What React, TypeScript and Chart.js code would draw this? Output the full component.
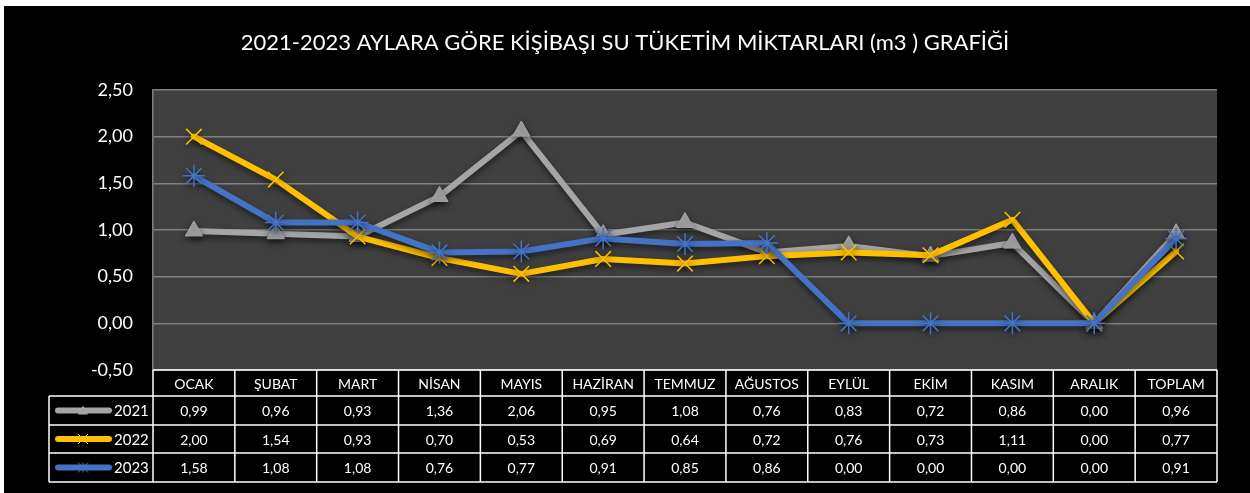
import React, { useEffect, useRef } from "react";
import { Chart, registerables } from "chart.js";

Chart.register(...registerables);

const TITLE = "2021-2023 AYLARA GÖRE KİŞİBAŞI SU TÜKETİM MİKTARLARI (m3 ) GRAFİĞİ";
const categories = ["OCAK", "ŞUBAT", "MART", "NİSAN", "MAYIS", "HAZİRAN", "TEMMUZ", "AĞUSTOS", "EYLÜL", "EKİM", "KASIM", "ARALIK", "TOPLAM"];
const seriesNames = ["2021", "2022", "2023"];
const values2021 = [0.99, 0.96, 0.93, 1.36, 2.06, 0.95, 1.08, 0.76, 0.83, 0.72, 0.86, 0.0, 0.96];
const values2022 = [2.0, 1.54, 0.93, 0.7, 0.53, 0.69, 0.64, 0.72, 0.76, 0.73, 1.11, 0.0, 0.77];
const values2023 = [1.58, 1.08, 1.08, 0.76, 0.77, 0.91, 0.85, 0.86, 0.0, 0.0, 0.0, 0.0, 0.91];
const yMin = -0.5;
const yMax = 2.5;
const yStep = 0.5;

const COLORS = ["#A5A5A5", "#FFC000", "#4472C4"];
const FONT = "Lato, 'Open Sans', sans-serif";

const fmt = (v: number) => v.toFixed(2).replace(".", ",");

const bgPlugin = {
  id: "bg",
  beforeDraw(chart: any) {
    const { ctx, width, height, chartArea } = chart;
    ctx.save();
    ctx.fillStyle = "#ffffff";
    ctx.fillRect(0, 0, width, height);
    ctx.fillStyle = "#000000";
    ctx.fillRect(4, 6, width - 4, height - 6);
    ctx.fillStyle = "#404040";
    ctx.fillRect(chartArea.left, chartArea.top, chartArea.right - chartArea.left, chartArea.bottom - chartArea.top);
    // title
    ctx.fillStyle = "#ffffff";
    ctx.font = `22px ${FONT}`;
    ctx.textAlign = "center";
    ctx.textBaseline = "middle";
    ctx.fillText(TITLE, 625, 43);
    ctx.restore();
  },
};

const shadowPlugin = {
  id: "shadow",
  beforeDatasetsDraw(chart: any) {
    const ctx = chart.ctx;
    ctx.save();
    ctx.shadowColor = "rgba(0,0,0,0.55)";
    ctx.shadowBlur = 6;
    ctx.shadowOffsetY = 3;
  },
  afterDatasetsDraw(chart: any) {
    chart.ctx.restore();
  },
};

function drawLegendMarker(ctx: CanvasRenderingContext2D, idx: number, x: number, y: number) {
  ctx.save();
  ctx.strokeStyle = COLORS[idx];
  ctx.fillStyle = COLORS[idx];
  ctx.lineWidth = 1;
  const r = 5;
  if (idx === 0) {
    ctx.beginPath();
    ctx.moveTo(x, y - r);
    ctx.lineTo(x + r, y + r * 0.8);
    ctx.lineTo(x - r, y + r * 0.8);
    ctx.closePath();
    ctx.fill();
  } else if (idx === 1) {
    ctx.beginPath();
    ctx.moveTo(x - r, y - r);
    ctx.lineTo(x + r, y + r);
    ctx.moveTo(x + r, y - r);
    ctx.lineTo(x - r, y + r);
    ctx.stroke();
  } else {
    ctx.beginPath();
    ctx.moveTo(x - r, y - r);
    ctx.lineTo(x + r, y + r);
    ctx.moveTo(x + r, y - r);
    ctx.lineTo(x - r, y + r);
    ctx.moveTo(x, y - r);
    ctx.lineTo(x, y + r);
    ctx.stroke();
  }
  ctx.restore();
}

const tablePlugin = {
  id: "dataTable",
  afterDraw(chart: any) {
    const { ctx, chartArea, scales } = chart;
    const xs = scales.x;
    const left = chartArea.left;
    const right = chartArea.right;
    const n = categories.length;
    const colW = (right - left) / n;
    const tableLeft = 49;
    const headTop = chartArea.bottom;
    const rowYs = [headTop, headTop + 26, headTop + 55, headTop + 83, headTop + 112];
    const rows = [values2021, values2022, values2023];

    ctx.save();
    ctx.strokeStyle = "#ffffff";
    ctx.lineWidth = 1.5;
    ctx.beginPath();
    ctx.moveTo(left, rowYs[0]);
    ctx.lineTo(right, rowYs[0]);
    for (let i = 1; i < rowYs.length; i++) {
      ctx.moveTo(tableLeft, rowYs[i]);
      ctx.lineTo(right, rowYs[i]);
    }
    for (let c = 0; c <= n; c++) {
      const x = left + c * colW;
      ctx.moveTo(x, rowYs[0]);
      ctx.lineTo(x, rowYs[4]);
    }
    ctx.moveTo(tableLeft, rowYs[1]);
    ctx.lineTo(tableLeft, rowYs[4]);
    ctx.stroke();

    ctx.fillStyle = "#ffffff";
    ctx.font = `14px ${FONT}`;
    ctx.textAlign = "center";
    ctx.textBaseline = "middle";
    categories.forEach((cat, i) => {
      const cx = xs.getPixelForValue(i);
      ctx.fillText(cat, cx, (rowYs[0] + rowYs[1]) / 2 + 1);
      rows.forEach((vals, r) => {
        ctx.fillText(fmt(vals[i]), cx, (rowYs[r + 1] + rowYs[r + 2]) / 2 + 1);
      });
    });

    rows.forEach((_, r) => {
      const cy = (rowYs[r + 1] + rowYs[r + 2]) / 2;
      ctx.save();
      ctx.strokeStyle = COLORS[r];
      ctx.lineWidth = 6;
      ctx.lineCap = "round";
      ctx.beginPath();
      ctx.moveTo(58, cy);
      ctx.lineTo(109, cy);
      ctx.stroke();
      ctx.restore();
      drawLegendMarker(ctx, r, 83, cy);
      ctx.fillStyle = "#ffffff";
      ctx.font = `15px ${FONT}`;
      ctx.textAlign = "left";
      ctx.fillText(seriesNames[r], 114, cy + 1);
    });
    ctx.restore();
  },
};

export default function App() {
  const ref = useRef<HTMLCanvasElement | null>(null);
  useEffect(() => {
    document.body.style.margin = "0";
    if (!ref.current) return;
    const chart = new Chart(ref.current, {
      type: "line",
      data: {
        labels: categories,
        datasets: [
          {
            label: seriesNames[0],
            data: values2021,
            borderColor: COLORS[0],
            backgroundColor: COLORS[0],
            borderWidth: 6,
            pointStyle: "triangle",
            pointRadius: 10,
            pointBorderWidth: 1,
            pointBackgroundColor: COLORS[0],
            pointBorderColor: COLORS[0],
            order: 3,
          },
          {
            label: seriesNames[1],
            data: values2022,
            borderColor: COLORS[1],
            backgroundColor: COLORS[1],
            borderWidth: 6,
            pointStyle: "crossRot",
            pointRadius: 11,
            pointBorderWidth: 1.5,
            pointBorderColor: COLORS[1],
            order: 2,
          },
          {
            label: seriesNames[2],
            data: values2023,
            borderColor: COLORS[2],
            backgroundColor: COLORS[2],
            borderWidth: 6,
            pointStyle: "star",
            pointRadius: 11,
            pointBorderWidth: 1.5,
            pointBorderColor: COLORS[2],
            order: 1,
          },
        ],
      },
      options: {
        responsive: false,
        animation: false,
        devicePixelRatio: 1,
        layout: { padding: { left: 0, top: 90, right: 33, bottom: 123 } },
        elements: { line: { tension: 0, borderJoinStyle: "round", borderCapStyle: "round" } },
        plugins: { legend: { display: false }, title: { display: false }, tooltip: { enabled: false } },
        scales: {
          x: { display: false, offset: true },
          y: {
            min: yMin,
            max: yMax,
            afterFit: (s: any) => {
              s.width = 153;
            },
            ticks: {
              stepSize: yStep,
              color: "#ffffff",
              padding: 20,
              font: { family: FONT, size: 18 },
              callback: (v: any) => fmt(Number(v)),
            },
            grid: { color: "#808080", lineWidth: 1.5, drawTicks: false },
            border: { display: true, color: "#808080", width: 1.5 },
          },
        },
      },
      plugins: [bgPlugin, shadowPlugin, tablePlugin],
    });
    return () => chart.destroy();
  }, []);
  return (
    <div style={{ width: 1250, height: 493 }}>
      <canvas ref={ref} width={1250} height={493} style={{ display: "block" }} />
    </div>
  );
}
